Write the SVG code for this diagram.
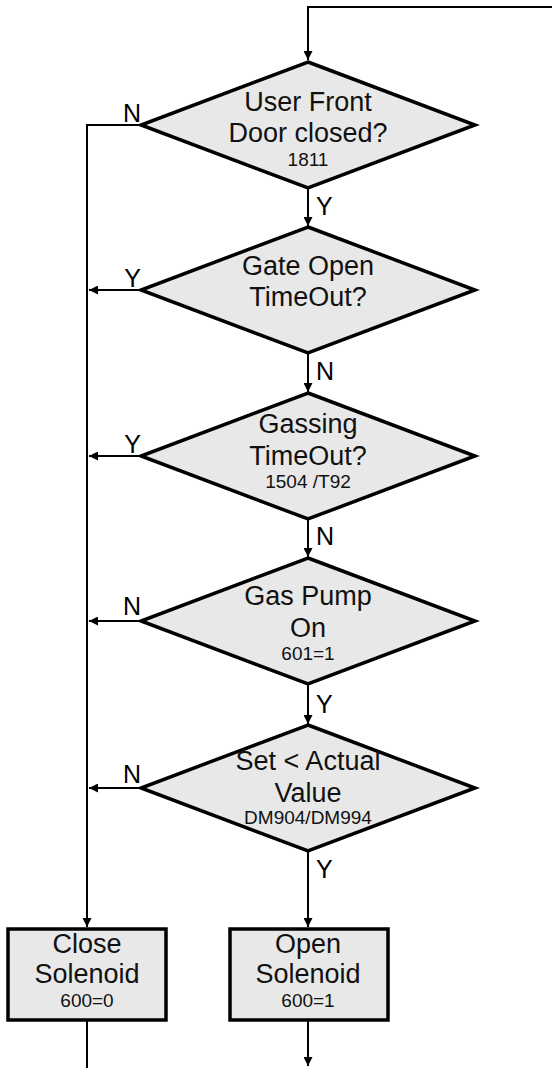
<svg xmlns="http://www.w3.org/2000/svg" width="552" height="1068" viewBox="0 0 552 1068">
<style>
.shape{fill:#e8e8e8;stroke:#000;stroke-width:3.5;stroke-linejoin:miter}
.line{fill:none;stroke:#000;stroke-width:2}
.t{font-family:"Liberation Sans",Arial,sans-serif;font-size:27px;fill:#111;text-anchor:middle}
.s{font-family:"Liberation Sans",Arial,sans-serif;font-size:19px;fill:#111;text-anchor:middle}
.l{font-family:"Liberation Sans",Arial,sans-serif;font-size:25px;fill:#000}
</style>
<defs>
<marker id="ah" viewBox="0 0 10 10" refX="10" refY="5" markerWidth="10" markerHeight="9" markerUnits="userSpaceOnUse" orient="auto">
<path d="M0,0 L10,5 L0,10 z" fill="#000"/>
</marker>
</defs>
<g id="connectors">
<polyline class="line" points="552,7 308,7 308,60" marker-end="url(#ah)"/>
<line class="line" x1="308" y1="188" x2="308" y2="226" marker-end="url(#ah)"/>
<line class="line" x1="308" y1="353" x2="308" y2="392" marker-end="url(#ah)"/>
<line class="line" x1="308" y1="519" x2="308" y2="557" marker-end="url(#ah)"/>
<line class="line" x1="308" y1="684" x2="308" y2="724" marker-end="url(#ah)"/>
<line class="line" x1="308" y1="851" x2="308" y2="927" marker-end="url(#ah)"/>
<polyline class="line" points="141,125 87,125 87,927" marker-end="url(#ah)"/>
<line class="line" x1="141" y1="290" x2="89" y2="290" marker-end="url(#ah)"/>
<line class="line" x1="141" y1="456" x2="89" y2="456" marker-end="url(#ah)"/>
<line class="line" x1="141" y1="621" x2="89" y2="621" marker-end="url(#ah)"/>
<line class="line" x1="141" y1="788" x2="89" y2="788" marker-end="url(#ah)"/>
<line class="line" x1="87" y1="1021" x2="87" y2="1068"/>
<line class="line" x1="308" y1="1021" x2="308" y2="1066" marker-end="url(#ah)"/>
<text class="l" x="141" y="122" text-anchor="end">N</text>
<text class="l" x="316" y="215">Y</text>
<text class="l" x="141" y="287" text-anchor="end">Y</text>
<text class="l" x="316" y="380">N</text>
<text class="l" x="141" y="453" text-anchor="end">Y</text>
<text class="l" x="316" y="545">N</text>
<text class="l" x="141" y="615" text-anchor="end">N</text>
<text class="l" x="316" y="713">Y</text>
<text class="l" x="141" y="783" text-anchor="end">N</text>
<text class="l" x="316" y="878">Y</text>
</g>
<g id="d1">
<polygon class="shape" points="308,62 475,125 308,188 141,125"/>
<text class="t" x="308" y="111">User Front</text>
<text class="t" x="308" y="142">Door closed?</text>
<text class="s" x="308" y="166">1811</text>
</g>
<g id="d2">
<polygon class="shape" points="308,227 475,290 308,353 141,290"/>
<text class="t" x="308" y="275">Gate Open</text>
<text class="t" x="308" y="306">TimeOut?</text>
</g>
<g id="d3">
<polygon class="shape" points="308,393 475,456 308,519 141,456"/>
<text class="t" x="308" y="433">Gassing</text>
<text class="t" x="308" y="465">TimeOut?</text>
<text class="s" x="308" y="488">1504 /T92</text>
</g>
<g id="d4">
<polygon class="shape" points="308,558 475,621 308,684 141,621"/>
<text class="t" x="308" y="605">Gas Pump</text>
<text class="t" x="308" y="637">On</text>
<text class="s" x="308" y="660">601=1</text>
</g>
<g id="d5">
<polygon class="shape" points="308,725 475,788 308,851 141,788"/>
<text class="t" x="308" y="770">Set &lt; Actual</text>
<text class="t" x="308" y="802">Value</text>
<text class="s" x="308" y="824">DM904/DM994</text>
</g>
<g id="close">
<rect class="shape" x="8" y="929" width="158" height="91"/>
<text class="t" x="87" y="953">Close</text>
<text class="t" x="87" y="983">Solenoid</text>
<text class="s" x="87" y="1007">600=0</text>
</g>
<g id="open">
<rect class="shape" x="230" y="929" width="158" height="91"/>
<text class="t" x="308" y="953">Open</text>
<text class="t" x="308" y="983">Solenoid</text>
<text class="s" x="308" y="1007">600=1</text>
</g>
</svg>
